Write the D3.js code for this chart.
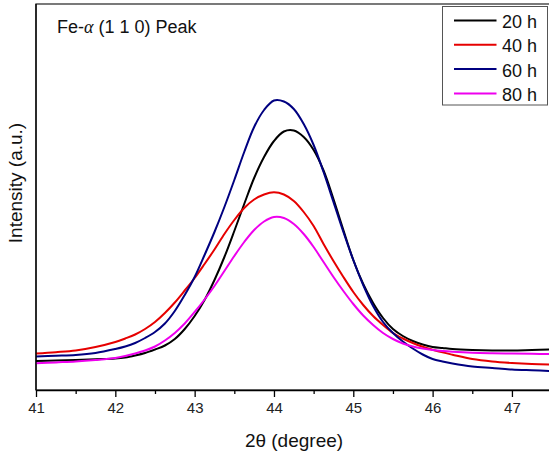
<!DOCTYPE html>
<html>
<head>
<meta charset="utf-8">
<script src="https://cdn.jsdelivr.net/npm/d3@7"></script>
<style>
  html, body { margin: 0; padding: 0; background: #fff; }
  svg { display: block; font-family: "Liberation Sans", Arial, sans-serif; }
</style>
</head>
<body>
<svg id="chart" width="549" height="458"></svg>
<script>
// ---- data ----
const twoTheta = [41, 41.25, 41.5, 41.75, 42, 42.125, 42.25, 42.375, 42.5, 42.625, 42.75, 42.875,
                  43, 43.125, 43.25, 43.375, 43.5, 43.625, 43.75, 43.875, 44, 44.125, 44.25, 44.375,
                  44.5, 44.625, 44.75, 44.875, 45, 45.125, 45.25, 45.375, 45.5, 45.625, 45.75, 45.875,
                  46, 46.125, 46.25, 46.5, 46.75, 47, 47.25, 47.5];
const series20h = [29, 29.5, 30, 30.7, 31.5, 32.5, 34.5, 37, 40.5, 44.5, 51, 61,
                   74, 90, 110, 133, 159, 186, 212, 233, 249, 258.5, 259.5, 253,
                   240, 219.5, 191, 160, 130, 106, 87, 72, 61, 54, 49, 45.5,
                   43, 42, 41, 40, 39.5, 39.5, 40, 40.5];
const series40h = [36.5, 37.8, 39.5, 43, 48, 51.5, 55.5, 61, 68, 77, 87.5, 99.5,
                   112, 126, 140.5, 156, 170, 182, 190.5, 195.5, 197.7, 195.5, 189, 178,
                   164, 146, 129, 113, 98, 85, 74, 65, 57, 51.5, 47, 43.3,
                   40.3, 37.6, 35.3, 31, 28.5, 27, 26, 25.5];
const series60h = [33.5, 34.2, 35, 37, 41, 43.5, 47, 52, 58, 66.5, 79, 95,
                   113, 135, 158, 183, 210, 238, 263, 280, 289.5, 288.5, 281, 266,
                   245, 218, 188, 158, 130, 105, 84, 68, 57, 48.5, 41.5, 35.5,
                   31, 28.5, 26.5, 23.5, 22, 20.5, 19.7, 19];
const series80h = [26.7, 27.6, 28.5, 30, 32, 34, 36.5, 39.5, 43.5, 49.5, 57, 66.5,
                   78, 90.5, 104, 119, 134, 148, 160, 168.5, 173, 172, 166, 156,
                   143, 128, 113, 99, 86, 74.5, 65, 57, 51, 46.5, 43.5, 41.5,
                   40, 39, 38.3, 37.3, 36.8, 36.5, 36.2, 36];
const seriesNames = ["20 h", "40 h", "60 h", "80 h"];
const seriesColors = ["#000000", "#e60000", "#000080", "#ee00ee"];
const xTickValues = [41, 42, 43, 44, 45, 46, 47];
const xMinorTicks = [41.5, 42.5, 43.5, 44.5, 45.5, 46.5];
const titleText = "Peak";
const xLabel = "2θ (degree)";
const yLabel = "Intensity (a.u.)";

const allSeries = [series20h, series40h, series60h, series80h];

// ---- layout ----
const svg = d3.select("#chart");
const pL = 36, pT = 4, pB = 390, pR = 551.6;

const x = d3.scaleLinear().domain([41, 47.5]).range([pL, pR]);
const y = d3.scaleLinear().domain([0, 386]).range([pB, pT]);

// clip
svg.append("defs").append("clipPath").attr("id", "clip")
  .append("rect").attr("x", pL).attr("y", pT).attr("width", pR - pL).attr("height", pB - pT);

// frame
svg.append("rect")
  .attr("x", pL).attr("y", pT).attr("width", pR - pL + 10).attr("height", pB - pT)
  .attr("fill", "none").attr("stroke", "#333").attr("stroke-width", 1.3);

// lines
const line = d3.line()
  .x((d, i) => x(twoTheta[i]))
  .y(d => y(d))
  .curve(d3.curveCatmullRom.alpha(0.5));

const g = svg.append("g").attr("clip-path", "url(#clip)");
allSeries.forEach((s, k) => {
  g.append("path")
    .attr("d", line(s))
    .attr("fill", "none")
    .attr("stroke", seriesColors[k])
    .attr("stroke-width", 2);
});

// x axis
const xAxis = d3.axisBottom(x).tickValues(xTickValues).tickSize(7).tickSizeOuter(0).tickPadding(5)
  .tickFormat(d3.format("d"));
const ax = svg.append("g").attr("transform", `translate(0,${pB})`).call(xAxis);
ax.select(".domain").attr("stroke", "#000").attr("stroke-width", 1.3);
ax.selectAll(".tick line").attr("stroke", "#000").attr("stroke-width", 1.3);
ax.selectAll(".tick text").attr("font-size", 15).attr("fill", "#222")
  .attr("font-family", "Liberation Sans, Arial, sans-serif");

const minor = d3.axisBottom(x).tickValues(xMinorTicks).tickSize(4).tickSizeOuter(0).tickFormat("");
const mx = svg.append("g").attr("transform", `translate(0,${pB})`).call(minor);
mx.select(".domain").remove();
mx.selectAll(".tick line").attr("stroke", "#000").attr("stroke-width", 1.3);

// left axis line
svg.append("line").attr("x1", pL).attr("x2", pL).attr("y1", pT).attr("y2", pB)
  .attr("stroke", "#000").attr("stroke-width", 1.3);

// labels
svg.append("text").attr("x", 294).attr("y", 447).attr("text-anchor", "middle")
  .attr("font-size", 19).attr("fill", "#111").text(xLabel);

svg.append("text").attr("transform", "translate(22,183) rotate(-90)")
  .attr("text-anchor", "middle").attr("font-size", 19).attr("fill", "#111").text(yLabel);

const t = svg.append("text").attr("x", 57).attr("y", 33).attr("font-size", 18).attr("fill", "#111");
t.append("tspan").text("Fe-");
t.append("tspan").attr("font-family", "Liberation Serif, DejaVu Serif, serif").attr("font-style", "italic").text("α");
t.append("tspan").text(" (1 1 0) " + titleText);

// legend
const lg = svg.append("g");
lg.append("rect").attr("x", 442.5).attr("y", 6.5).attr("width", 105).attr("height", 98.5)
  .attr("fill", "#fff").attr("stroke", "#555").attr("stroke-width", 1);
seriesNames.forEach((name, k) => {
  const cy = 20.5 + k * 24.3;
  lg.append("line").attr("x1", 454).attr("x2", 496.5).attr("y1", cy).attr("y2", cy)
    .attr("stroke", seriesColors[k]).attr("stroke-width", 2);
  lg.append("text").attr("x", 502).attr("y", cy + 7.5).attr("font-size", 18).attr("fill", "#111").text(name);
});
</script>
</body>
</html>
